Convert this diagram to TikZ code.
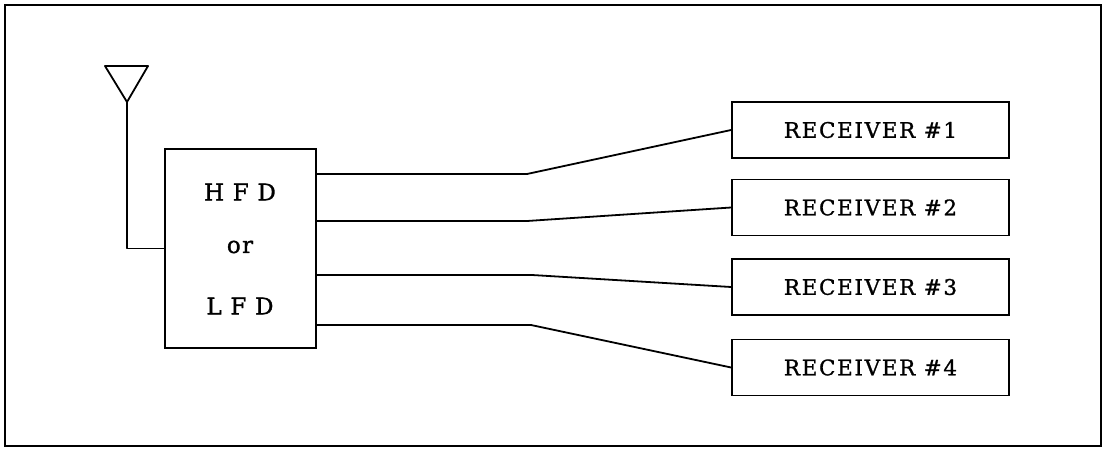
\documentclass[tikz,border=0pt]{standalone}
\usepackage{fontspec}
\setmainfont{DejaVu Serif}
\newfontfamily\recfont[LetterSpace=8,FakeBold=1.2]{DejaVu Serif}
\newfontfamily\hfdfont[LetterSpace=6,FakeBold=1.2]{DejaVu Serif}
\begin{document}
\begin{tikzpicture}[x=1pt,y=-1pt,
  wire/.style={line width=1.8pt, line join=round},
  block/.style={draw, line width=1.8pt, inner sep=0pt},
  recv/.style={block, minimum width=277pt, minimum height=56pt, font=\recfont\fontsize{21.4}{26}\selectfont},
  lab/.style={font=\hfdfont\fontsize{23}{28}\selectfont}]
\useasboundingbox (0,0) rectangle (1107,449);
\draw[line width=2pt] (5,5) rectangle (1101,446);
% HFD / LFD block
\node[block, minimum width=151pt, minimum height=199pt] (hfd) at (240.5,248.5) {};
\node[lab] (t1) at (240,192) {H F D};
\node[lab] (t2) at (240,247) {or};
\node[lab] (t3) at (240,306) {L F D};
% antenna
\coordinate (apex) at (127,102);
\coordinate (tl) at (105,66);
\coordinate (tr) at (148,66);
\draw[wire] (tl) -- (tr) -- (apex) -- cycle;
\draw[wire] (apex) |- (hfd.west);
% receivers
\node[recv] (r1) at (870.5,130) {RECEIVER \#1};
\node[recv] (r2) at (870.5,207.5) {RECEIVER \#2};
\node[recv] (r3) at (870.5,287) {RECEIVER \#3};
\node[recv] (r4) at (870.5,367.5) {RECEIVER \#4};
% bends
\coordinate (b1) at (527,174);
\coordinate (b2) at (527,221);
\coordinate (b3) at (532,275);
\coordinate (b4) at (531,325);
\draw[wire] (hfd.east |- b1) -- (b1) -- (r1.west);
\draw[wire] (hfd.east |- b2) -- (b2) -- (r2.west);
\draw[wire] (hfd.east |- b3) -- (b3) -- (r3.west);
\draw[wire] (hfd.east |- b4) -- (b4) -- (r4.west);
\end{tikzpicture}
\end{document}
